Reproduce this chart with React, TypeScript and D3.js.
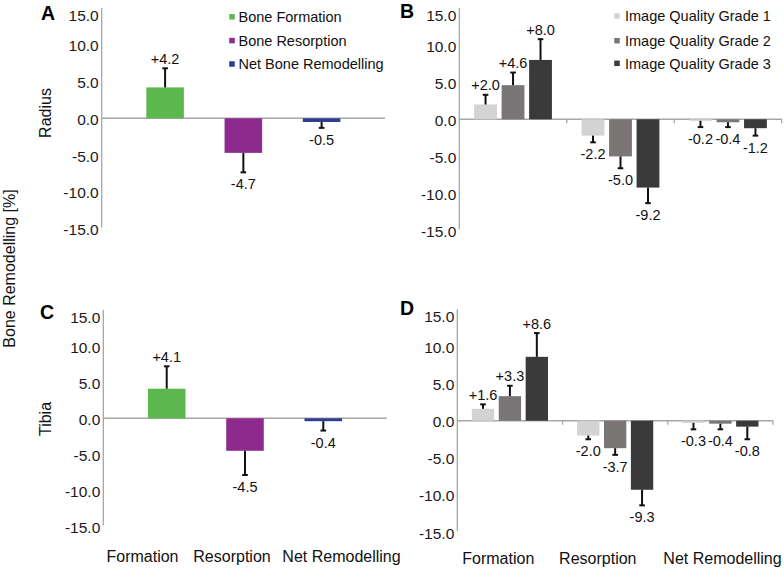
import React from "react";
import * as d3 from "d3";

// ---------- data ----------
const categories = ["Formation", "Resorption", "Net Remodelling"];
const boneSeries = ["Bone Formation", "Bone Resorption", "Net Bone Remodelling"];
const gradeSeries = ["Image Quality Grade 1", "Image Quality Grade 2", "Image Quality Grade 3"];
const yTickValues = [15, 10, 5, 0, -5, -10, -15];

// Panel A (Radius) and C (Tibia): mean and SD per category
const radiusMean = [4.2, -4.7, -0.5];
const radiusSD = [2.6, 2.65, 0.8];
const tibiaMean = [4.1, -4.5, -0.4];
const tibiaSD = [3.1, 3.35, 1.3];

// Panel B (Radius by image quality grade)
const radiusGrade1 = [2.0, -2.2, -0.2];
const radiusGrade1SD = [1.3, 0.9, 0.85];
const radiusGrade2 = [4.6, -5.0, -0.4];
const radiusGrade2SD = [1.7, 1.6, 0.65];
const radiusGrade3 = [8.0, -9.2, -1.2];
const radiusGrade3SD = [2.8, 2.1, 1.0];

// Panel D (Tibia by image quality grade)
const tibiaGrade1 = [1.6, -2.0, -0.3];
const tibiaGrade1SD = [0.6, 0.5, 0.86];
const tibiaGrade2 = [3.3, -3.7, -0.4];
const tibiaGrade2SD = [1.4, 0.9, 0.76];
const tibiaGrade3 = [8.6, -9.3, -0.8];
const tibiaGrade3SD = [3.2, 2.1, 1.7];

// ---------- styles ----------
const boneColors = ["#5cb74f", "#8e2a8d", "#2d3e92"];
const gradeColors = ["#d3d3d3", "#7a7676", "#3b3a3a"];
const FONT = "'Liberation Sans', Arial, Helvetica, sans-serif";
const AXIS_COLOR = "#a6a6a6";

const fmtVal = (v: number) => (v > 0 ? "+" : v < 0 ? "-" : "") + Math.abs(v).toFixed(1);
const fmtTick = (v: number) => (v < 0 ? "-" : "") + Math.abs(v).toFixed(1);

type Layout = {
  axisX: number;
  xEnd: number;
  top: number;
  zero: number;
  letter: string;
  letterX: number;
  letterY: number;
};

type Series = { values: number[]; sd: number[]; color: string }[];

function Panel({
  layout,
  grouped,
  series,
}: {
  layout: Layout;
  grouped: boolean;
  series: Series;
}) {
  const { axisX, xEnd, top, zero } = layout;
  const half = zero - top;
  const y = d3.scaleLinear().domain([-15, 15]).range([zero + half, top]);

  const x = grouped
    ? d3.scaleBand<string>().domain(categories).range([axisX, xEnd]).paddingInner(0).paddingOuter(0)
    : d3.scaleBand<string>().domain(categories).range([axisX, xEnd]).paddingInner(0.52).paddingOuter(0.57);

  const inner = d3
    .scaleBand<number>()
    .domain(series.map((_, i) => i))
    .range([0, x.bandwidth()])
    .paddingInner(0.17)
    .paddingOuter(0.54);

  const bars: React.ReactNode[] = [];
  const errs: React.ReactNode[] = [];
  const labels: React.ReactNode[] = [];

  categories.forEach((cat, ci) => {
    series.forEach((s, si) => {
      const v = s.values[ci];
      const sd = s.sd[ci];
      let bx: number, bw: number;
      if (grouped) {
        bx = (x(cat) as number) + (inner(si) as number);
        bw = inner.bandwidth();
      } else {
        if (si !== ci) return;
        bx = x(cat) as number;
        bw = x.bandwidth();
      }
      const y0 = y(0);
      const y1 = y(v);
      bars.push(
        <rect
          key={`b-${ci}-${si}`}
          x={bx}
          y={Math.min(y0, y1)}
          width={bw}
          height={Math.abs(y1 - y0)}
          fill={s.color}
        />
      );
      const sign = v >= 0 ? 1 : -1;
      const ye = y(v + sign * sd);
      const cx = bx + bw / 2;
      errs.push(
        <g key={`e-${ci}-${si}`} stroke="#111" strokeWidth={2}>
          <line x1={cx} x2={cx} y1={y1} y2={ye} />
          <line x1={cx - 2.8} x2={cx + 2.8} y1={ye} y2={ye} />
        </g>
      );
      labels.push(
        <text
          key={`l-${ci}-${si}`}
          x={cx}
          y={sign > 0 ? ye - 4.5 : ye + 17}
          textAnchor="middle"
          fontSize={14.5}
          fill="#111"
        >
          {fmtVal(v)}
        </text>
      );
    });
  });

  const ticksX = grouped ? categories.map((c) => (x(c) as number) + x.step()) : [];

  return (
    <g fontFamily={FONT}>
      <line x1={axisX} x2={axisX} y1={y(15)} y2={y(-15) - 1} stroke={AXIS_COLOR} strokeWidth={1.3} />
      {yTickValues.map((t) => (
        <text
          key={t}
          x={axisX - 3}
          y={Math.max(y(t), top + 6) + 6.5}
          textAnchor="end"
          fontSize={15.5}
          fill="#1a1a1a"
        >
          {fmtTick(t)}
        </text>
      ))}
      <line x1={axisX} x2={xEnd} y1={y(0)} y2={y(0)} stroke={AXIS_COLOR} strokeWidth={1.5} />
      {ticksX.map((tx, i) => (
        <line key={`t${i}`} x1={tx} x2={tx} y1={y(0)} y2={y(0) + 4} stroke={AXIS_COLOR} strokeWidth={1.3} />
      ))}
      {bars}
      {errs}
      {labels}
      <text
        x={layout.letterX}
        y={layout.letterY + 7}
        textAnchor="middle"
        fontSize={19.5}
        fontWeight="bold"
        fill="#000"
      >
        {layout.letter}
      </text>
    </g>
  );
}

function Legend({
  names,
  colors,
  sqX,
  textX,
  rows,
}: {
  names: string[];
  colors: string[];
  sqX: number;
  textX: number;
  rows: number[];
}) {
  return (
    <g fontFamily={FONT}>
      {names.map((n, i) => (
        <g key={n}>
          <rect x={sqX - 2.75} y={rows[i] - 2.75} width={5.5} height={5.5} fill={colors[i]} />
          <text x={textX} y={rows[i] + 5.2} fontSize={14.5} fill="#111">
            {n}
          </text>
        </g>
      ))}
    </g>
  );
}

export default function App() {
  const layoutA: Layout = { axisX: 101.7, xEnd: 385, top: 8, zero: 118.3, letter: "A", letterX: 48, letterY: 12.8 };
  const layoutB: Layout = { axisX: 459.3, xEnd: 781.7, top: 8, zero: 119.3, letter: "B", letterX: 407, letterY: 10.5 };
  const layoutC: Layout = { axisX: 103.3, xEnd: 386.7, top: 310, zero: 418.3, letter: "C", letterX: 47, letterY: 311.7 };
  const layoutD: Layout = { axisX: 457.3, xEnd: 773, top: 309.3, zero: 420.7, letter: "D", letterX: 407, letterY: 308 };

  const singleA: Series = boneColors.map((c) => ({ values: radiusMean, sd: radiusSD, color: c }));
  const singleC: Series = boneColors.map((c) => ({ values: tibiaMean, sd: tibiaSD, color: c }));
  const groupB: Series = [
    { values: radiusGrade1, sd: radiusGrade1SD, color: gradeColors[0] },
    { values: radiusGrade2, sd: radiusGrade2SD, color: gradeColors[1] },
    { values: radiusGrade3, sd: radiusGrade3SD, color: gradeColors[2] },
  ];
  const groupD: Series = [
    { values: tibiaGrade1, sd: tibiaGrade1SD, color: gradeColors[0] },
    { values: tibiaGrade2, sd: tibiaGrade2SD, color: gradeColors[1] },
    { values: tibiaGrade3, sd: tibiaGrade3SD, color: gradeColors[2] },
  ];

  const xLabelsC = [142.5, 232, 341.5];
  const xLabelsD = [498.3, 597.8, 722.5];

  return (
    <svg
      width={784}
      height={568}
      style={{ position: "absolute", left: 0, top: 0, background: "#fff" }}
      fontFamily={FONT}
    >
      <rect width={784} height={568} fill="#fff" />
      <Panel layout={layoutA} grouped={false} series={singleA} />
      <Panel layout={layoutB} grouped={true} series={groupB} />
      <Panel layout={layoutC} grouped={false} series={singleC} />
      <Panel layout={layoutD} grouped={true} series={groupD} />

      <Legend names={boneSeries} colors={boneColors} sqX={232} textX={238.5} rows={[16.8, 40.6, 64]} />
      <Legend names={gradeSeries} colors={gradeColors} sqX={617} textX={625} rows={[16, 40.7, 63.3]} />

      <text transform="translate(45,113) rotate(-90)" textAnchor="middle" fontSize={16} y={5.7} fill="#111">
        Radius
      </text>
      <text transform="translate(45,419) rotate(-90)" textAnchor="middle" fontSize={16} y={5.7} fill="#111">
        Tibia
      </text>
      <text transform="translate(9,268.5) rotate(-90)" textAnchor="middle" fontSize={16} y={5.7} fill="#111">
        Bone Remodelling [%]
      </text>

      {categories.map((c, i) => (
        <text key={`xc${i}`} x={xLabelsC[i]} y={562.4} textAnchor="middle" fontSize={16} fill="#111">
          {c}
        </text>
      ))}
      {categories.map((c, i) => (
        <text key={`xd${i}`} x={xLabelsD[i]} y={564} textAnchor="middle" fontSize={16} fill="#111">
          {c}
        </text>
      ))}
    </svg>
  );
}
